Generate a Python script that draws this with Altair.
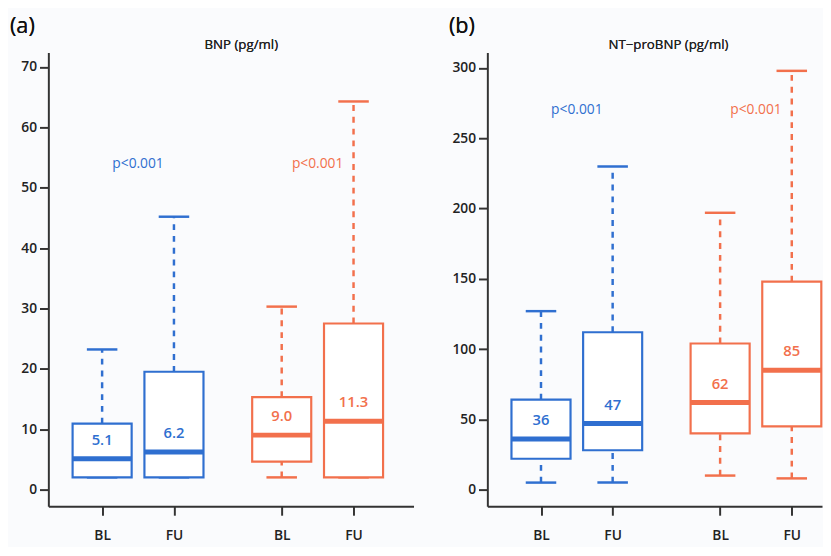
import altair as alt
import pandas as pd

# ---- data ----
times = ["BL", "FU", "BL", "FU"]
cohorts = ["blue", "blue", "orange", "orange"]

bnp_min = [2.0, 2.0, 2.0, 2.0]
bnp_q1 = [2.0, 2.0, 4.6, 2.0]
bnp_med = [5.1, 6.2, 9.0, 11.3]
bnp_q3 = [10.9, 19.5, 15.3, 27.5]
bnp_max = [23.2, 45.2, 30.3, 64.3]
bnp_labels = ["5.1", "6.2", "9.0", "11.3"]

nt_min = [5, 5, 10, 8]
nt_q1 = [22, 28, 40, 45]
nt_med = [36, 47, 62, 85]
nt_q3 = [64, 112, 104, 148]
nt_max = [127, 230, 197, 298]
nt_labels = ["36", "47", "62", "85"]

p_text = ["p<0.001", "p<0.001"]
p_cohorts = ["blue", "orange"]
bnp_p_y = [54, 54]
nt_p_y = [270, 270]

bnp_ticks = [0, 10, 20, 30, 40, 50, 60, 70]
nt_ticks = [0, 50, 100, 150, 200, 250, 300]

# layout helpers (x slot of each box: pairs separated by a wider gap)
slots = [1.0, 2.0, 3.5, 4.5]
p_slots = [1.5, 4.0]

stroke_colors = ["#2f6fd0", "#f2704c"]
median_colors = ["#1d4aa3", "#e63b28"]
text_colors = ["#4d7ad2", "#f47f62"]
FONT = "Open Sans"
H = 461


def panel(mins, q1, med, q3, maxs, labels, p_y, ticks, ydom, title, tag, width, xdom, title_x):
    df = pd.DataFrame({
        "pos": slots, "time": times, "cohort": cohorts,
        "lo": mins, "q1": q1, "med": med, "q3": q3, "hi": maxs, "lab": labels,
    })
    pdf = pd.DataFrame({"pos": p_slots, "cohort": p_cohorts, "y": p_y, "txt": p_text})

    xs = alt.Scale(domain=xdom, nice=False, zero=False)
    ys = alt.Scale(domain=ydom, nice=False, zero=False)
    col_stroke = alt.Color("cohort:N", scale=alt.Scale(domain=["blue", "orange"], range=stroke_colors), legend=None)
    col_med = alt.Color("cohort:N", scale=alt.Scale(domain=["blue", "orange"], range=median_colors), legend=None)
    col_text = alt.Color("cohort:N", scale=alt.Scale(domain=["blue", "orange"], range=text_colors), legend=None)

    label_expr = "datum.value == 1 || datum.value == 3.5 ? 'BL' : 'FU'"
    xaxis = alt.Axis(values=slots, labelExpr=label_expr, title=None, grid=False,
                     tickSize=9, tickWidth=2, tickColor="#333", domainColor="#333",
                     domainWidth=2, labelPadding=14, labelFontSize=14, labelFontWeight=600,
                     labelFont=FONT, labelColor="#222")
    yaxis = alt.Axis(values=ticks, title=None, grid=False, tickSize=9, tickWidth=2,
                     tickColor="#333", domainColor="#333", domainWidth=2, labelPadding=3,
                     labelFontSize=14, labelFontWeight=600, labelFont=FONT, labelColor="#222")

    base = alt.Chart(df)
    x = alt.X("pos:Q", scale=xs, axis=xaxis)

    upper = base.mark_rule(strokeWidth=2.5, strokeDash=[6, 6]).encode(
        x=x, y=alt.Y("q3:Q", scale=ys, axis=yaxis), y2="hi:Q", color=col_stroke)
    lower = base.mark_rule(strokeWidth=2.5, strokeDash=[6, 6]).encode(
        x=x, y=alt.Y("lo:Q", scale=ys), y2="q1:Q", color=col_stroke)
    cap_hi = base.mark_tick(orient="horizontal", size=31, thickness=2.5, opacity=1).encode(
        x=x, y=alt.Y("hi:Q", scale=ys), color=col_stroke)
    cap_lo = base.mark_tick(orient="horizontal", size=31, thickness=2.5, opacity=1).encode(
        x=x, y=alt.Y("lo:Q", scale=ys), color=col_stroke)
    box = base.mark_bar(size=60, fill="white", fillOpacity=1, strokeWidth=2.2).encode(
        x=x, y=alt.Y("q1:Q", scale=ys), y2="q3:Q", stroke=col_stroke)
    median = base.mark_tick(orient="horizontal", size=60, thickness=5, opacity=1).encode(
        x=x, y=alt.Y("med:Q", scale=ys), color=col_med)
    vals = base.mark_text(dy=-19, fontSize=15, fontWeight=600, font=FONT).encode(
        x=x, y=alt.Y("med:Q", scale=ys), text="lab:N", color=col_text)
    ptxt = alt.Chart(pdf).mark_text(fontSize=14, font=FONT).encode(
        x=alt.X("pos:Q", scale=xs), y=alt.Y("y:Q", scale=ys), text="txt:N", color=col_text)
    tag_mark = alt.Chart(pdf).mark_text(text=tag, fontSize=22, font=FONT, align="left",
                                        baseline="middle", color="#111").encode(
        x=alt.value(-39), y=alt.value(-27))
    title_mark = alt.Chart(pdf).mark_text(text=title, fontSize=13.5, font=FONT, align="center",
                                          baseline="middle", color="#222").encode(
        x=alt.value(title_x), y=alt.value(-8))

    return alt.layer(upper, lower, cap_hi, cap_lo, box, median, vals, ptxt, tag_mark,
                     title_mark).properties(width=width, height=H)


a = panel(bnp_min, bnp_q1, bnp_med, bnp_q3, bnp_max, bnp_labels, bnp_p_y, bnp_ticks,
          [-2.8, 72.4], "BNP (pg/ml)", "(a)", 371, [0.32, 0.32 + 371 / 75], 196)
b = panel(nt_min, nt_q1, nt_med, nt_q3, nt_max, nt_labels, nt_p_y, nt_ticks,
          [-11.9, 311], "NT\u2212proBNP (pg/ml)", "(b)", 340, [0.32, 0.32 + 340 / 75], 184)

chart = alt.hconcat(a, b, spacing=36).properties(
    background="#fafbfd",
    padding={"left": 2, "top": 3, "right": 0, "bottom": 0},
).configure_view(stroke=None).resolve_scale(color="independent", stroke="independent")

chart.save("out.html", embed_options={"renderer": "svg", "actions": False})
